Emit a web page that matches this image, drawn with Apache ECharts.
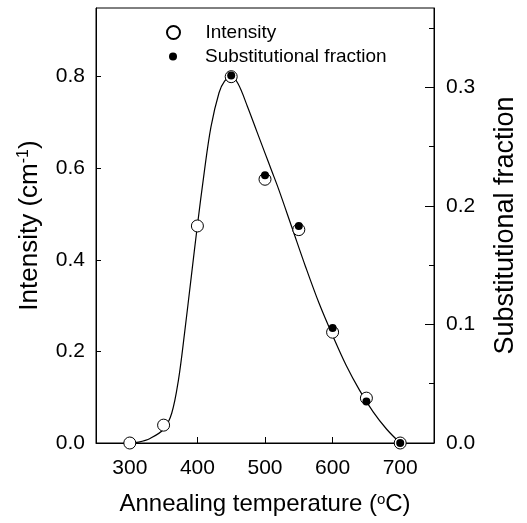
<!DOCTYPE html>
<html>
<head>
<meta charset="utf-8">
<script src="https://cdn.jsdelivr.net/npm/echarts@6/dist/echarts.min.js"></script>
<style>
  html, body { margin: 0; padding: 0; background: #fff; }
  #chart { width: 527px; height: 523px; }
</style>
</head>
<body>
<div id="chart"></div>
<script>
// measured points
const temps = [300, 350, 400, 450, 500, 550, 600, 650, 700];
const intensity = [0.0, 0.039, 0.474, 0.80, 0.576, 0.466, 0.242, 0.098, 0.0];
const fracTemps = [450, 500, 550, 600, 650, 700];
const fraction = [0.310, 0.226, 0.183, 0.097, 0.035, 0.0];

// fitted curve
const fitX = [300, 313, 330, 350, 362, 372, 381, 391, 400, 410, 420, 432, 440, 450, 460,
  474, 488, 500, 510, 520, 540, 560, 580, 600, 620, 640, 660, 680, 700];
const fitY = [0, 0.002, 0.01, 0.03, 0.065, 0.138, 0.24, 0.364, 0.475, 0.59, 0.69, 0.765, 0.79, 0.80, 0.785,
  0.735, 0.68, 0.633, 0.594, 0.555, 0.47, 0.385, 0.305, 0.235, 0.17, 0.115, 0.068, 0.03, 0];

const xTicks = [300, 400, 500, 600, 700];
const leftLabels = [0, 0.2, 0.4, 0.6, 0.8];
const leftTicks = [0.2, 0.4, 0.6, 0.8];
const rightLabels = [0, 0.1, 0.2, 0.3];
const rightMinor = [0.05, 0.15, 0.25, 0.35];

const FONT = '"Liberation Sans", Arial, Helvetica, sans-serif';
const pair = (xs, ys) => xs.map((x, i) => [x, ys[i]]);

const chart = echarts.init(document.getElementById('chart'), null, { renderer: 'canvas' });

chart.setOption({
  animation: false,
  backgroundColor: '#fff',
  textStyle: { fontFamily: FONT, color: '#000' },
  grid: {
    left: 96, right: 89, top: 8, bottom: 80,
    show: true, borderColor: '#000', borderWidth: 1,
  },
  legend: [
    {
      data: ['Intensity'],
      left: 166, top: 23, padding: 0,
      itemWidth: 54, itemHeight: 13,
      textStyle: { fontFamily: FONT, fontSize: 19, color: '#000' },
    },
    {
      data: ['Substitutional fraction'],
      left: 169, top: 47, padding: 0,
      itemWidth: 54, itemHeight: 8,
      textStyle: { fontFamily: FONT, fontSize: 19, color: '#000' },
    },
  ],
  xAxis: {
    type: 'value',
    min: 250,
    max: 750,
    name: 'Annealing temperature ({sup|o}C)',
    nameLocation: 'middle',
    nameGap: 49,
    nameTextStyle: {
      fontFamily: FONT, fontSize: 24, color: '#000',
      rich: { sup: { fontSize: 15, verticalAlign: 'top', padding: [0, 0, 10, 0], fontFamily: FONT } },
    },
    axisLine: { lineStyle: { color: '#000', width: 1 } },
    axisTick: { inside: true, length: 6, customValues: xTicks, lineStyle: { color: '#000' } },
    axisLabel: { customValues: xTicks, fontSize: 21, color: '#000', margin: 15, fontFamily: FONT },
    splitLine: { show: false },
  },
  yAxis: [
    {
      type: 'value',
      position: 'left',
      min: 0,
      max: 0.95,
      name: 'Intensity (cm{sup|-1})',
      nameLocation: 'middle',
      nameGap: 52,
      nameTextStyle: {
        fontFamily: FONT, fontSize: 26, color: '#000',
        rich: { sup: { fontSize: 16, padding: [0, 0, 12, 0], fontFamily: FONT } },
      },
      axisLine: { show: true, lineStyle: { color: '#000', width: 1 } },
      axisTick: { inside: true, length: 5, customValues: leftTicks, lineStyle: { color: '#000' } },
      axisLabel: {
        customValues: leftLabels, fontSize: 21, color: '#000', margin: 11, fontFamily: FONT,
        formatter: (v) => v.toFixed(1),
      },
      splitLine: { show: false },
    },
    {
      type: 'value',
      position: 'right',
      min: 0,
      max: 0.367,
      name: 'Substitutional fraction',
      nameLocation: 'middle',
      nameGap: 58,
      nameTextStyle: { fontFamily: FONT, fontSize: 27, color: '#000' },
      axisLine: { show: true, lineStyle: { color: '#000', width: 1 } },
      axisTick: { inside: true, length: 9, customValues: rightLabels, lineStyle: { color: '#000' } },
      axisLabel: {
        customValues: rightLabels, fontSize: 21, color: '#000', margin: 12, fontFamily: FONT,
        formatter: (v) => v.toFixed(1),
      },
      splitLine: { show: false },
    },
    {
      // minor ticks of the right axis
      type: 'value',
      position: 'right',
      min: 0,
      max: 0.367,
      axisLine: { show: false },
      axisTick: { inside: true, length: 5, customValues: rightMinor, lineStyle: { color: '#000' } },
      axisLabel: { show: false },
      splitLine: { show: false },
    },
  ],
  series: [
    {
      name: 'fit',
      type: 'line',
      yAxisIndex: 0,
      data: pair(fitX, fitY),
      smooth: 0.35,
      showSymbol: false,
      silent: true,
      lineStyle: { color: '#000', width: 1.2 },
      z: 1,
    },
    {
      name: 'Intensity',
      type: 'scatter',
      yAxisIndex: 0,
      data: pair(temps, intensity),
      symbol: 'circle',
      symbolSize: 12,
      itemStyle: { color: '#fff', borderColor: '#000', borderWidth: 1, opacity: 1 },
      z: 2,
    },
    {
      name: 'Substitutional fraction',
      type: 'scatter',
      yAxisIndex: 1,
      data: pair(fracTemps, fraction),
      symbol: 'circle',
      symbolSize: 8,
      itemStyle: { color: '#000', opacity: 1 },
      z: 3,
    },
  ],
});
</script>
</body>
</html>
